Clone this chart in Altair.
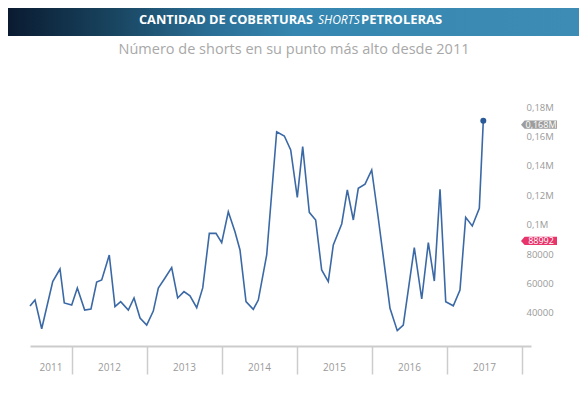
import altair as alt
import pandas as pd

# ---- data ----
dates = [2011.440, 2011.507, 2011.596, 2011.743, 2011.840, 2011.897, 2011.996, 2012.071, 2012.169, 2012.253,
         2012.329, 2012.396, 2012.497, 2012.573, 2012.649, 2012.751, 2012.827, 2012.907, 2012.996, 2013.084,
         2013.151, 2013.240, 2013.329, 2013.409, 2013.493, 2013.573, 2013.663, 2013.743, 2013.831, 2013.920,
         2013.996, 2014.084, 2014.173, 2014.240, 2014.320, 2014.417, 2014.484, 2014.596, 2014.729, 2014.831,
         2014.916, 2015.004, 2015.076, 2015.164, 2015.249, 2015.329, 2015.417, 2015.484, 2015.596, 2015.671,
         2015.751, 2015.817, 2015.907, 2015.996, 2016.080, 2016.160, 2016.240, 2016.337, 2016.417, 2016.491,
         2016.564, 2016.663, 2016.751, 2016.831, 2016.907, 2016.983, 2017.084, 2017.173, 2017.249, 2017.337,
         2017.431, 2017.484]
shorts = [42000, 46100, 26600, 58600, 67200, 44100, 42700, 54300, 39300, 40000,
          58300, 59700, 76700, 41600, 45000, 39300, 47500, 33900, 29100, 38600,
          54300, 61100, 68100, 47500, 51800, 49000, 40900, 54300, 91400, 91400,
          85100, 106100, 92500, 80100, 45000, 39800, 46100, 76700, 160500, 157600,
          148100, 115900, 150300, 105700, 100500, 66500, 58600, 83500, 97800, 120900,
          100500, 122000, 124900, 134500, 103200, 71900, 40500, 25300, 29100, 55600,
          81700, 46800, 85100, 59000, 121300, 45000, 42200, 52900, 102300, 96400,
          108400, 168000]

year_labels = ["2011", "2012", "2013", "2014", "2015", "2016", "2017"]
year_centers = [2011.72, 2012.5, 2013.5, 2014.5, 2015.5, 2016.5, 2017.5]
year_ticks = [2012, 2013, 2014, 2015, 2016, 2017, 2018]
y_ticks = [40000, 60000, 80000, 100000, 120000, 140000, 160000, 180000]

tag_values = [168000, 88992]
tag_texts = ["0,168M", "88992"]
tag_colors = ["#9d9d9d", "#e8336b"]

title_main = "CANTIDAD DE COBERTURAS"
title_italic = "SHORTS"
title_end = "PETROLERAS"
subtitle = "Número de shorts en su punto más alto desde 2011"

# ---- layout ----
W, H = 501, 246
FONT = "Open Sans"

df = pd.DataFrame({"t": dates, "v": shorts})
last = df.tail(1)
years_df = pd.DataFrame({"t": year_centers, "label": year_labels})
tags_df = pd.DataFrame({"v": tag_values, "label": tag_texts, "c": tag_colors})
one = pd.DataFrame({"a": [0]})

xscale = alt.Scale(domain=[2011.44, 2018.12], nice=False, zero=False)
yscale = alt.Scale(domain=[14854, 182040], nice=False, zero=False)

xaxis = alt.Axis(values=year_ticks, labels=False, title=None, grid=False,
                 tickSize=28, tickColor="#cccccc", tickWidth=1.5,
                 domainColor="#cccccc", domainWidth=2)
yaxis = alt.Axis(orient="right", values=y_ticks, title=None, grid=False,
                 ticks=False, domain=False, labelPadding=-5, labelOffset=4,
                 labelOverlap=False, labelBound=False,
                 labelColor="#9a9a9a", labelFont=FONT, labelFontSize=9.5,
                 labelExpr="datum.value >= 100000 ? replace(format(datum.value/1000000, '.2~f'), '.', ',') + 'M' : format(datum.value, 'd')")

X = alt.X("t:Q", scale=xscale, axis=xaxis)
Y = alt.Y("v:Q", scale=yscale, axis=yaxis)

line = alt.Chart(df).mark_line(color="#3b69a6", strokeWidth=1.6).encode(x=X, y=Y)

dot = alt.Chart(last).mark_point(filled=True, color="#2a5a98", size=36, opacity=1).encode(x=X, y=Y)

years = alt.Chart(years_df).mark_text(font=FONT, fontSize=10, color="#9a9a9a", clip=False).encode(
    x=X,
    y=alt.value(H + 21.5),
    text="label:N",
)

tag_shape = "M-1,0 L-0.8,-0.23 L1,-0.23 L1,0.23 L-0.8,0.23 Z"
tags = alt.Chart(tags_df).mark_point(shape=tag_shape, filled=True, size=1296, opacity=1,
                                     yOffset=4, clip=False).encode(
    x=alt.value(509),
    y=Y,
    color=alt.Color("c:N", scale=None),
)
tag_text = alt.Chart(tags_df).mark_text(font=FONT, fontSize=9, color="white", dy=4,
                                        clip=False).encode(
    x=alt.value(511),
    y=Y,
    text="label:N",
)

grad = alt.LinearGradient(
    gradient="linear",
    stops=[
        alt.GradientStop(color="#0a1b31", offset=0),
        alt.GradientStop(color="#1a4864", offset=0.2),
        alt.GradientStop(color="#2a6d94", offset=0.35),
        alt.GradientStop(color="#3586b0", offset=0.5),
        alt.GradientStop(color="#3d8cb5", offset=1),
    ],
    x1=0, x2=1, y1=0, y2=0,
)
bar = alt.Chart(one).mark_rect(color=grad, clip=False).encode(
    x=alt.value(-22), x2=alt.value(549), y=alt.value(-92), y2=alt.value(-64)
)

t1 = alt.Chart(one).mark_text(text=title_main, font=FONT, fontSize=12.8, fontWeight="bold",
                              color="white", align="right", baseline="middle", clip=False).encode(
    x=alt.value(283), y=alt.value(-80))
t2 = alt.Chart(one).mark_text(text=title_italic, font=FONT, fontSize=12, fontStyle="italic",
                              color="white", align="left", baseline="middle", clip=False).encode(
    x=alt.value(288), y=alt.value(-80))
t3 = alt.Chart(one).mark_text(text=title_end, font=FONT, fontSize=13, fontWeight="bold",
                              color="white", align="left", baseline="middle", clip=False).encode(
    x=alt.value(331), y=alt.value(-80))
sub = alt.Chart(one).mark_text(text=subtitle, font=FONT, fontSize=14.5, color="#a8a8a8",
                               align="center", baseline="middle", clip=False).encode(
    x=alt.value(264), y=alt.value(-50))

chart = alt.layer(line, dot, years, tags, tag_text, bar, t1, t2, t3, sub).properties(
    width=W, height=H,
    autosize=alt.AutoSizeParams(type="none"),
    padding={"left": 22, "top": 92, "right": 48, "bottom": 41},
    background="white",
).configure_view(stroke=None).configure_axis(labelOverlap=False)

chart.save("out.html", embed_options={"renderer": "svg", "actions": False})
